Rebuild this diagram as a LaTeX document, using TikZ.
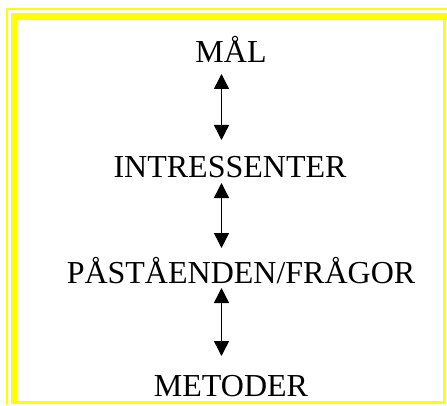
\documentclass[tikz,border=0pt]{standalone}
\usepackage{fontspec}
\setmainfont{Liberation Serif}
\usetikzlibrary{arrows.meta}
\definecolor{frameyellow}{RGB}{255,255,0}
\tikzset{
  lbl/.style={anchor=base, inner sep=0pt, font=\fontsize{32pt}{36pt}\selectfont},
  link/.style={line width=1.5pt, {Triangle[width=15pt,length=15pt]}-{Triangle[width=15pt,length=15pt]}},
  band/.style={fill=frameyellow, draw=none}
}
\begin{document}
\begin{tikzpicture}[x=1pt,y=1pt]
\useasboundingbox (0,0) rectangle (447,405);
\fill[white] (0,0) rectangle (447,405);
% thin outer line (left and top)
\fill[band] (6,0) rectangle (8,397);
\fill[band] (6,395) rectangle (447,397);
% thick inner band (left and top)
\fill[band] (11,1) rectangle (17,392);
\fill[band] (11,385) rectangle (447,392);
% right and bottom bands
\fill[band] (443,1) rectangle (446,392);
\fill[band] (11,1) rectangle (446,4);
% labels
\node[lbl] (mal) at (231,342) {MÅL};
\node[lbl] (int) at (230,228) {INTRESSENTER};
\node[lbl] (pas) at (241,122) {PÅSTÅENDEN/FRÅGOR};
\node[lbl] (met) at (231,9) {METODER};
% arrow endpoints
\coordinate (a1t) at (221.5,331);
\coordinate (a1b) at (221.5,265);
\coordinate (a2t) at (221.5,222);
\coordinate (a2b) at (221.5,157);
\coordinate (a3t) at (221.5,117);
\coordinate (a3b) at (221.5,49);
\draw[link] (a1t) -- (a1b);
\draw[link] (a2t) -- (a2b);
\draw[link] (a3t) -- (a3b);
\end{tikzpicture}
\end{document}
